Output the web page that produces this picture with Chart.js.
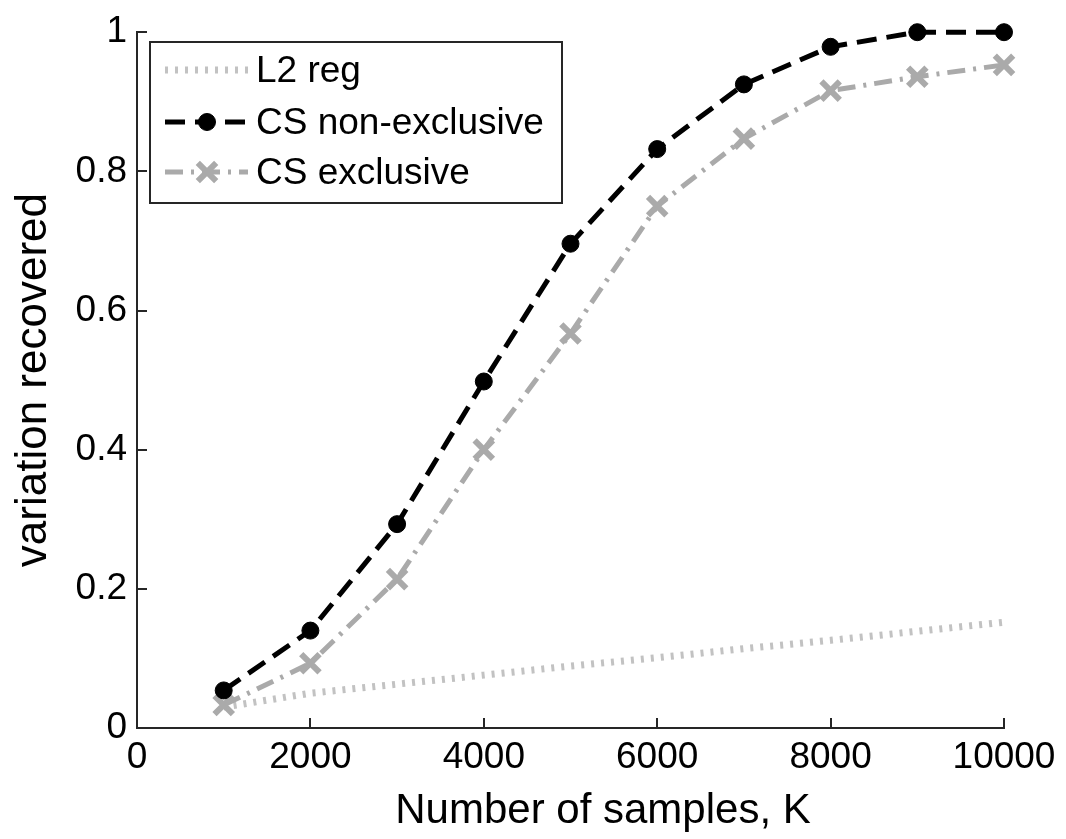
<!DOCTYPE html>
<html>
<head>
<meta charset="utf-8">
<script src="https://cdn.jsdelivr.net/npm/chart.js@4.4.0/dist/chart.umd.min.js"></script>
<style>
  html, body { margin: 0; padding: 0; background: #fff; }
  #wrap { width: 1066px; height: 839px; }
</style>
</head>
<body>
<div id="wrap"><canvas id="myChart" width="1066" height="839"></canvas></div>
<script>
// data
const samples = [1000, 2000, 3000, 4000, 5000, 6000, 7000, 8000, 9000, 10000];
const l2Reg = [0.030, 0.050, 0.063, 0.076, 0.089, 0.101, 0.114, 0.126, 0.139, 0.152];
const csNonExclusive = [0.054, 0.140, 0.293, 0.498, 0.696, 0.832, 0.925, 0.979, 1.0, 1.0];
const csExclusive = [0.033, 0.093, 0.214, 0.400, 0.567, 0.750, 0.847, 0.916, 0.936, 0.953];
const xTicks = [0, 2000, 4000, 6000, 8000, 10000];
const yTicks = [0, 0.2, 0.4, 0.6, 0.8, 1];

const FONT = "'Liberation Sans', Arial, Helvetica, sans-serif";
const AXIS_COLOR = '#262626';

function toPoints(ys) {
  return samples.map((x, i) => ({ x: x, y: ys[i] }));
}

// inward tick marks, legend box and x label
const extras = {
  id: 'extras',
  afterDraw(chart) {
    const ctx = chart.ctx;
    const xs = chart.scales.x;
    const ys = chart.scales.y;
    const area = chart.chartArea;

    ctx.save();
    ctx.strokeStyle = AXIS_COLOR;
    ctx.lineWidth = 2;
    ctx.setLineDash([]);
    ctx.beginPath();
    yTicks.forEach(v => {
      const py = Math.round(ys.getPixelForValue(v));
      ctx.moveTo(area.left, py);
      ctx.lineTo(area.left + 10, py);
    });
    xTicks.forEach(v => {
      const px = Math.round(xs.getPixelForValue(v));
      ctx.moveTo(px, area.bottom);
      ctx.lineTo(px, area.bottom - 10);
    });
    ctx.stroke();

    // legend
    const box = { x: 150, y: 42, w: 412, h: 161 };
    ctx.fillStyle = '#fff';
    ctx.fillRect(box.x, box.y, box.w, box.h);
    ctx.strokeStyle = AXIS_COLOR;
    ctx.lineWidth = 2;
    ctx.strokeRect(box.x, box.y, box.w, box.h);

    const rows = [70, 122, 172];
    const legendOrder = [0, 1, 2];
    legendOrder.forEach((di, r) => {
      const ds = chart.data.datasets[di];
      const y = rows[r];
      ctx.save();
      ctx.strokeStyle = ds.borderColor;
      ctx.lineWidth = ds.borderWidth;
      ctx.lineCap = 'butt';
      ctx.setLineDash(ds.borderDash || []);
      ctx.beginPath();
      ctx.moveTo(165, y);
      ctx.lineTo(248, y);
      ctx.stroke();
      ctx.setLineDash([]);
      if (ds.pointRadius > 0) {
        ctx.fillStyle = ds.pointBackgroundColor;
        ctx.strokeStyle = ds.pointBorderColor;
        ctx.lineWidth = ds.pointBorderWidth;
        Chart.helpers.drawPoint(ctx, {
          pointStyle: ds.pointStyle,
          radius: ds.pointRadius,
          borderWidth: ds.pointBorderWidth,
          rotation: 0
        }, 207, y);
      }
      ctx.restore();

      ctx.fillStyle = '#000';
      ctx.font = '37px ' + FONT;
      ctx.textBaseline = 'middle';
      ctx.textAlign = 'left';
      ctx.fillText(ds.label, 256, y + 2);
    });

    // x axis label
    ctx.fillStyle = '#000';
    ctx.font = '42px ' + FONT;
    ctx.textAlign = 'center';
    ctx.textBaseline = 'alphabetic';
    ctx.fillText('Number of samples, K', 603, 823);
    ctx.restore();
  }
};

const ctx = document.getElementById('myChart');

new Chart(ctx, {
  type: 'line',
  data: {
    datasets: [{
      label: 'L2 reg',
      data: toPoints(l2Reg),
      borderColor: '#c2c2c2',
      borderWidth: 7,
      borderDash: [3, 7],
      pointRadius: 0,
      fill: false,
      tension: 0,
      clip: false,
      order: 3
    }, {
      label: 'CS non-exclusive',
      data: toPoints(csNonExclusive),
      borderColor: '#000',
      borderWidth: 5,
      borderDash: [20, 10],
      pointStyle: 'circle',
      pointRadius: 8.5,
      pointBackgroundColor: '#000',
      pointBorderColor: '#000',
      pointBorderWidth: 1,
      fill: false,
      tension: 0,
      clip: false,
      order: 1
    }, {
      label: 'CS exclusive',
      data: toPoints(csExclusive),
      borderColor: '#aaaaaa',
      borderWidth: 5,
      borderDash: [18, 8, 3, 8],
      pointStyle: 'crossRot',
      pointRadius: 13,
      pointBackgroundColor: '#aaaaaa',
      pointBorderColor: '#aaaaaa',
      pointBorderWidth: 6,
      fill: false,
      tension: 0,
      clip: false,
      order: 2
    }]
  },
  options: {
    responsive: false,
    animation: false,
    devicePixelRatio: 1,
    layout: { padding: { left: 0, top: 28, right: 62, bottom: 0 } },
    plugins: {
      legend: { display: false },
      tooltip: { enabled: false }
    },
    scales: {
      x: {
        type: 'linear',
        min: 0,
        max: 10000,
        afterFit: scale => { scale.height = 111; },
        afterBuildTicks: scale => { scale.ticks = xTicks.map(v => ({ value: v })); },
        grid: { display: false, drawTicks: false },
        border: { display: true, color: AXIS_COLOR, width: 2 },
        ticks: {
          color: '#000',
          font: { family: FONT, size: 37 },
          padding: 8,
          maxRotation: 0,
          callback: v => String(v)
        }
      },
      y: {
        min: 0,
        max: 1,
        afterFit: scale => { scale.width = 137; },
        afterBuildTicks: scale => { scale.ticks = yTicks.map(v => ({ value: v })); },
        grid: { display: false, drawTicks: false },
        border: { display: true, color: AXIS_COLOR, width: 2 },
        title: {
          display: true,
          text: 'variation recovered',
          color: '#000',
          font: { family: FONT, size: 44 },
          padding: { top: 7, bottom: 0 }
        },
        ticks: {
          color: '#000',
          font: { family: FONT, size: 37 },
          padding: 10,
          callback: v => String(v)
        }
      }
    }
  },
  plugins: [extras]
});
</script>
</body>
</html>
